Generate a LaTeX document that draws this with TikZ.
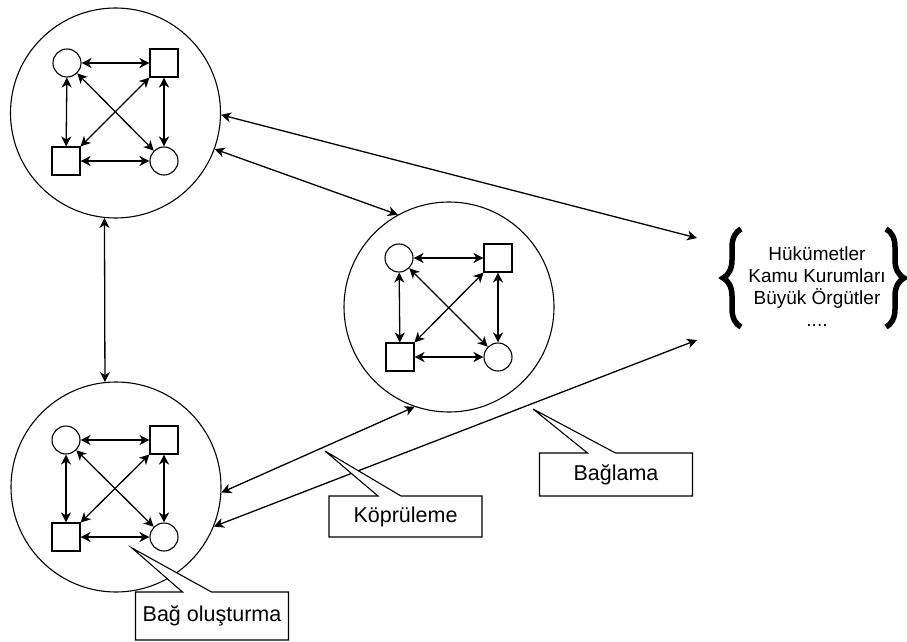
\documentclass[tikz,border=0pt]{standalone}
\usepackage{fontspec}
\setmainfont{Liberation Sans}
\usetikzlibrary{arrows.meta,decorations.pathreplacing}
\begin{document}
\begin{tikzpicture}[x=1pt,y=-1pt,line width=1.3pt,
  >={Stealth[length=10pt,width=10pt,inset=3pt]},
  grp/.style={circle, draw, line width=1.1pt, minimum size=210pt, inner sep=0pt},
  dot/.style={circle, draw, line width=1.1pt, minimum size=28pt, inner sep=0pt},
  sq/.style={rectangle, draw, line width=1.1pt, minimum size=28pt, inner sep=0pt},
  lbl/.style={inner sep=0pt, outer sep=0pt, minimum width=153pt, font=\fontsize{21.5}{26}\selectfont},
  brc/.style={decorate, decoration={brace, amplitude=18pt}, line width=5.5pt}]
\useasboundingbox (0,0) rectangle (907,642);
\node[grp] (gid1) at (115.5,113){};
\node[dot] (gid1a) at (67,63){};
\node[sq] (gid1b) at (164,63){};
\node[sq] (gid1c) at (66,161){};
\node[dot] (gid1d) at (164,161){};
\draw[<->](gid1a) -- (gid1b);
\draw[<->](gid1a) -- (gid1c);
\draw[<->](gid1b) -- (gid1d);
\draw[<->](gid1c) -- (gid1d);
\draw[<->](gid1a) -- (gid1d);
\draw[<->](gid1b) -- (gid1c);
\node[grp] (gid2) at (449,307){};
\node[dot] (gid2a) at (399,258){};
\node[sq] (gid2b) at (498,258){};
\node[sq] (gid2c) at (400,357){};
\node[dot] (gid2d) at (498,357){};
\draw[<->](gid2a) -- (gid2b);
\draw[<->](gid2a) -- (gid2c);
\draw[<->](gid2b) -- (gid2d);
\draw[<->](gid2c) -- (gid2d);
\draw[<->](gid2a) -- (gid2d);
\draw[<->](gid2b) -- (gid2c);
\node[grp] (gid3) at (116,487){};
\node[dot] (gid3a) at (66,440){};
\node[sq] (gid3b) at (164,440){};
\node[sq] (gid3c) at (66,537){};
\node[dot] (gid3d) at (164,537){};
\draw[<->](gid3a) -- (gid3b);
\draw[<->](gid3a) -- (gid3c);
\draw[<->](gid3b) -- (gid3d);
\draw[<->](gid3c) -- (gid3d);
\draw[<->](gid3a) -- (gid3d);
\draw[<->](gid3b) -- (gid3c);
% kurumlar
\node[align=center, font=\fontsize{19}{22}\selectfont] (org) at (817,287){Hükümetler\\Kamu Kurumları\\Büyük Örgütler\\....};
\draw[brc] (741,327) -- (741,229);
\draw[brc] (886,229) -- (886,327);
\coordinate (orgtop) at (697,238);
\coordinate (orgbot) at (697,340);
\draw[<->](gid1.-1) -- (orgtop);
\draw[<->](gid1.-20) -- (gid2.119);
\draw[<->](gid1.-96.5) -- (gid3.96.5);
\draw[<->](gid3.-3) -- (gid2.-109);
\draw[<->](gid3.-22) -- (orgbot);
% etiketler
\node[lbl, minimum height=41pt] (kopru) at (405.5,516.5){Köprüleme};
\coordinate (kopruuc) at (325,451);
\draw[fill=white, line width=1.1pt] (kopru.north west) -- ([xshift=49pt]kopru.north west) -- (kopruuc) -- ([xshift=72pt]kopru.north west) -- (kopru.north east) -- (kopru.south east) -- (kopru.south west) -- cycle;
\node[lbl, minimum height=41pt] at (kopru){Köprüleme};
\node[lbl, minimum height=43pt] (bagla) at (616,474.5){Bağlama};
\coordinate (baglauc) at (533,409);
\draw[fill=white, line width=1.1pt] (bagla.north west) -- ([xshift=48pt]bagla.north west) -- (baglauc) -- ([xshift=76pt]bagla.north west) -- (bagla.north east) -- (bagla.south east) -- (bagla.south west) -- cycle;
\node[lbl, minimum height=43pt] at (bagla){Bağlama};
\node[lbl, minimum height=48pt] (bag) at (212,616){Bağ oluşturma};
\coordinate (baguc) at (132,548);
\draw[fill=white, line width=1.1pt] (bag.north west) -- ([xshift=47pt]bag.north west) -- (baguc) -- ([xshift=76pt]bag.north west) -- (bag.north east) -- (bag.south east) -- (bag.south west) -- cycle;
\node[lbl, minimum height=48pt] at (bag){Bağ oluşturma};
\end{tikzpicture}
\end{document}
